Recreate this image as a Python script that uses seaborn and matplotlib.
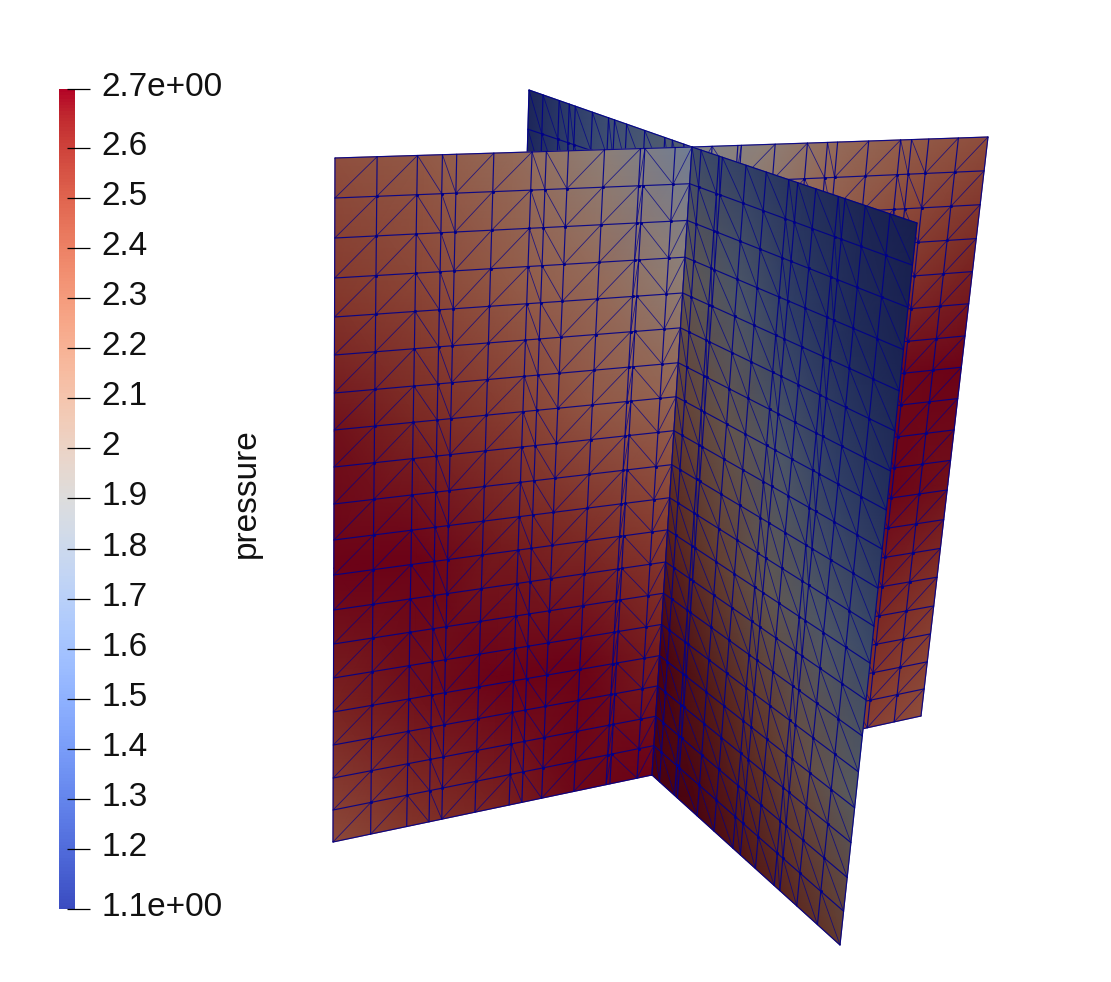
import numpy as np
import matplotlib
matplotlib.use('Agg')
import matplotlib.pyplot as plt
from matplotlib.colors import ListedColormap, Normalize
from matplotlib.cm import ScalarMappable
import seaborn as sns

# colour bar
p_min = 1.08
p_max = 2.718
tick_values = [2.718, 2.6, 2.5, 2.4, 2.3, 2.2, 2.1, 2.0, 1.9, 1.8, 1.7, 1.6, 1.5, 1.4, 1.3, 1.2, 1.08]
tick_labels = ['2.7e+00', '2.6', '2.5', '2.4', '2.3', '2.2', '2.1', '2', '1.9', '1.8', '1.7', '1.6',
               '1.5', '1.4', '1.3', '1.2', '1.1e+00']

# mesh rows, read from the left edge of the front panel (pixels)
row_y = [158, 198, 238, 278, 317, 355, 393, 430, 467, 504, 540, 575, 610, 644, 678, 712, 745, 778, 810, 842]

# panel corners in pixels: top-left, top-right, bottom-right, bottom-left
corners_back_left = [(529, 90), (692, 147), (652, 775), (510, 760)]
corners_back_right = [(692, 147), (988, 137), (921, 716), (652, 775)]
corners_front_left = [(335, 158), (692, 147), (652, 775), (333, 842)]
corners_front_right = [(692, 147), (917, 223), (840, 945), (652, 775)]

# mesh columns as fractions of the panel width
cols_back_left = [0, .086, .185, .247, .284, .389, .488, .525, .599, .71, .833, .88, .95, 1]
cols_back_right = [0, .068, .155, .167, .281, .39, .458, .492, .597, .705, .742, .8, .9, 1]
cols_front_left = [0, .118, .231, .301, .341, .445, .552, .592, .654, .755, .856, .868, .953, 1]
cols_front_right = [0, .04, .12, .135, .24, .33, .43, .47, .55, .65, .68, .77, .88, 1]

# diagonal direction in each column
diag_front_left = '//\\\\//\\\\///\\/'
diag_back_right = diag_front_left[::-1]
diag_steep = '\\' * 13

# pressure read at coarse positions across each panel
pressure_back_left = [[1.10, 1.30, 1.48, 1.60, 1.72],
                      [1.15, 1.35, 1.55, 1.70, 1.85],
                      [1.30, 1.50, 1.70, 1.85, 2.00],
                      [1.50, 1.70, 1.90, 2.05, 2.20],
                      [1.70, 1.90, 2.10, 2.25, 2.40],
                      [1.90, 2.10, 2.30, 2.45, 2.60]]
pressure_back_right = [[1.85, 2.00, 2.20, 2.32, 2.40],
                       [2.00, 2.20, 2.35, 2.50, 2.60],
                       [2.30, 2.45, 2.60, 2.70, 2.72],
                       [2.55, 2.65, 2.72, 2.72, 2.68],
                       [2.72, 2.72, 2.70, 2.62, 2.52],
                       [2.72, 2.70, 2.60, 2.50, 2.40]]
pressure_front_left = [[2.39, 2.33, 2.20, 2.00, 1.70],
                       [2.52, 2.45, 2.33, 2.20, 2.00],
                       [2.68, 2.60, 2.50, 2.35, 2.25],
                       [2.72, 2.72, 2.66, 2.58, 2.48],
                       [2.62, 2.68, 2.72, 2.72, 2.64],
                       [2.42, 2.55, 2.62, 2.70, 2.72]]
pressure_front_right = [[1.55, 1.40, 1.25, 1.15, 1.08],
                        [2.00, 1.70, 1.38, 1.22, 1.12],
                        [2.30, 2.05, 1.70, 1.40, 1.25],
                        [2.55, 2.30, 2.00, 1.72, 1.50],
                        [2.72, 2.60, 2.40, 2.12, 1.85],
                        [2.72, 2.70, 2.62, 2.50, 2.35]]
grid_u = [0, .25, .5, .75, 1]
grid_v = [0, .2, .4, .6, .8, 1]

# how much the lighting darkens each panel
light_back = 0.41
light_front = 0.6
light_side = 0.45

edge_color = '#00008a'

sns.set_theme(style='white')
plt.rcParams['font.family'] = ['Liberation Sans', 'DejaVu Sans']

cmap = sns.color_palette('coolwarm', as_cmap=True)
norm = Normalize(p_min, p_max)
row_frac = (np.array(row_y) - row_y[0]) / (row_y[-1] - row_y[0])


def warp(corners, u, v):
    # bilinear position on a panel
    c = np.array(corners, dtype=float)
    top = c[0] + np.outer(u, c[1] - c[0])
    bottom = c[3] + np.outer(u, c[2] - c[3])
    return np.array([(1 - t) * top + t * bottom for t in v])


def draw_panel(ax, corners, cols, diag, pressure, light, z):
    shaded = cmap(np.linspace(0, 1, 256))
    shaded[:, :3] *= light
    coarse = warp(corners, grid_u, grid_v)
    ax.pcolormesh(coarse[..., 0], coarse[..., 1], np.array(pressure), shading='gouraud',
                  cmap=ListedColormap(shaded), norm=norm, zorder=z)

    nodes = warp(corners, cols, row_frac)
    # horizontal and vertical mesh lines
    ax.plot(nodes[..., 0].T, nodes[..., 1].T, color=edge_color, lw=0.85, alpha=0.9, zorder=z + 0.1)
    ax.plot(nodes[..., 0], nodes[..., 1], color=edge_color, lw=0.85, alpha=0.9, zorder=z + 0.1)
    # one diagonal in each cell
    for j, d in enumerate(diag):
        for i in range(len(row_y) - 1):
            if d == '/':
                a, b = nodes[i + 1, j], nodes[i, j + 1]
            else:
                a, b = nodes[i, j], nodes[i + 1, j + 1]
            ax.plot([a[0], b[0]], [a[1], b[1]], color=edge_color, lw=0.6, alpha=0.75, zorder=z + 0.1)
    inner = nodes[1:-1, 1:-1]
    sns.scatterplot(x=inner[..., 0].ravel(), y=inner[..., 1].ravel(), s=5, color=edge_color,
                    linewidth=0, ax=ax, zorder=z + 0.2, legend=False)


fig = plt.figure(figsize=(11.11, 9.82), dpi=100)
ax = fig.add_axes([0, 0, 1, 1])

draw_panel(ax, corners_back_left, cols_back_left, diag_steep, pressure_back_left, light_side, 1)
draw_panel(ax, corners_back_right, cols_back_right, diag_back_right, pressure_back_right, light_front, 2)
draw_panel(ax, corners_front_left, cols_front_left, diag_front_left, pressure_front_left, light_front, 3)
draw_panel(ax, corners_front_right, cols_front_right, diag_steep, pressure_front_right, light_back, 4)

ax.set_xlim(0, 1111)
ax.set_ylim(982, 0)
ax.axis('off')

# colour bar, 16 px wide
cax = fig.add_axes([59 / 1111, 1 - 909 / 982, 16 / 1111, 820 / 982])
cb = fig.colorbar(ScalarMappable(norm=norm, cmap=cmap), cax=cax)
cb.outline.set_visible(False)
cb.set_ticks([])
cax.hlines(tick_values, 0.5, 1.95, color='black', lw=0.9, clip_on=False)
for val, lab in zip(tick_values, tick_labels):
    y_px = 909 - (val - p_min) / (p_max - p_min) * 820
    ax.text(101.5, y_px - 1.5, lab, fontsize=24, color='#111111', ha='left', va='center')

ax.text(246, 493, 'pressure', fontsize=24, color='#111111', rotation=90, ha='center', va='center')

fig.savefig('out.png', dpi=100)
